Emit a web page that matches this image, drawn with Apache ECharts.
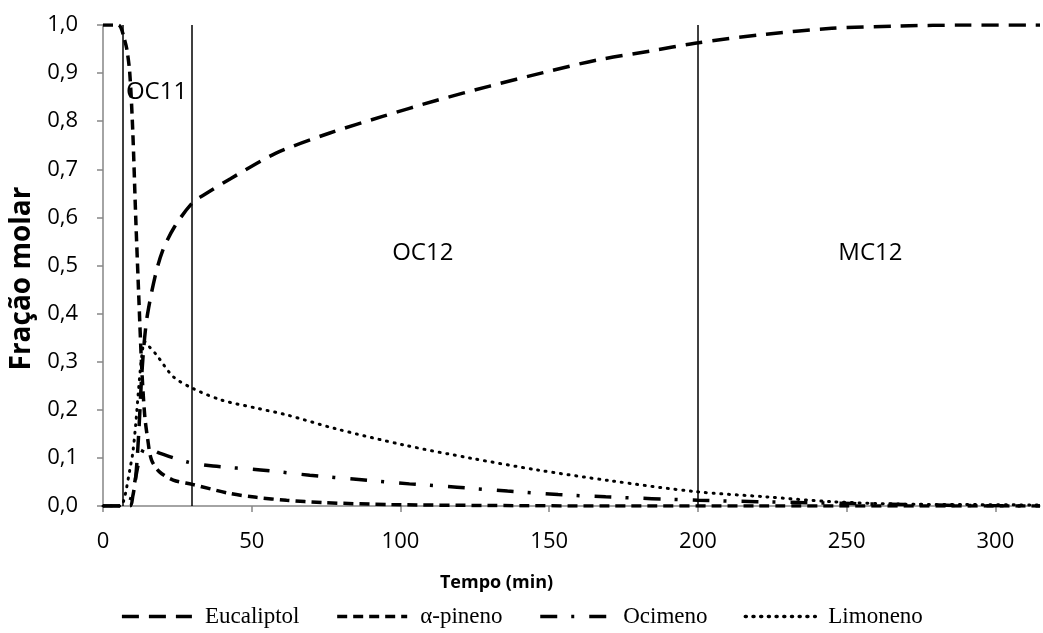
<!DOCTYPE html>
<html>
<head>
<meta charset="utf-8">
<script src="https://cdn.jsdelivr.net/npm/echarts@6/dist/echarts.min.js"></script>
<style>
  html, body { margin: 0; padding: 0; background: #fff; }
  #chart { width: 1043px; height: 633px; }
</style>
</head>
<body>
<div id="chart"></div>
<script>
// Fração molar x tempo — curvas
var tEuc = [0, 9, 10, 11, 12, 13, 14, 15, 17.5, 20, 24, 30, 34, 43, 58, 76, 94, 112, 130, 148, 166, 184, 199, 223, 245, 268, 290, 315];
var yEuc = [0, 0, 0.02, 0.06, 0.15, 0.27, 0.35, 0.40, 0.477, 0.53, 0.58, 0.63, 0.647, 0.681, 0.733, 0.775, 0.81, 0.843, 0.873, 0.901, 0.927, 0.946, 0.962, 0.981, 0.993, 0.998, 1.0, 1.0];

var tPin = [0, 5, 6, 7, 8, 9, 10, 11, 12, 13, 14, 15, 16.3, 19, 23.6, 30, 42.7, 51.6, 61.7, 74, 97, 130, 170, 220, 315];
var yPin = [1.0, 1.0, 0.995, 0.975, 0.95, 0.90, 0.78, 0.60, 0.44, 0.29, 0.19, 0.14, 0.096, 0.071, 0.054, 0.045, 0.026, 0.018, 0.012, 0.007, 0.003, 0.001, 0, 0, 0];

var tOci = [0, 8, 9, 10, 11, 12, 13, 14, 15, 19, 28, 37, 53, 69.5, 86, 103, 119, 136, 153, 169, 200, 220, 236, 252, 270, 290, 315];
var yOci = [0, 0, 0.01, 0.03, 0.06, 0.09, 0.11, 0.12, 0.12, 0.11, 0.092, 0.083, 0.075, 0.064, 0.055, 0.046, 0.039, 0.031, 0.024, 0.019, 0.012, 0.009, 0.007, 0.005, 0.003, 0.001, 0];

var tLim = [0, 6, 7, 8, 9, 10, 11, 12, 13, 14, 15, 18, 23.6, 30, 40, 52, 62, 78, 101, 124, 146, 170, 199, 223, 245, 268, 290, 315];
var yLim = [0, 0, 0.012, 0.04, 0.075, 0.11, 0.17, 0.245, 0.31, 0.342, 0.335, 0.314, 0.269, 0.245, 0.22, 0.203, 0.189, 0.161, 0.127, 0.099, 0.075, 0.053, 0.030, 0.019, 0.009, 0.004, 0.003, 0.002];

var seriesNames = ['Eucaliptol', 'α-pineno', 'Ocimeno', 'Limoneno'];

// limites das zonas e os rótulos
var zoneLines = [6.5, 30, 200];
var zoneLabels = ['OC11', 'OC12', 'MC12'];
var zoneLabelX = [7.7, 107.5, 258];
var zoneLabelY = [0.86, 0.525, 0.525];

function pairs(t, y) {
  return t.map(function(v, i) { return [v, y[i]]; });
}

var chart = echarts.init(document.getElementById('chart'));

var axisFont = { fontFamily: 'Open Sans', fontSize: 22, color: '#000' };

function curve(name, t, y, width, dash, cap) {
  return {
    name: name, type: 'line', data: pairs(t, y),
    symbol: 'none', smooth: 0.3,
    lineStyle: { color: '#000', width: width, type: dash, cap: cap || 'butt' },
    itemStyle: { color: '#000' },
    z: 3
  };
}

chart.setOption({
  animation: false,
  grid: { left: 103, right: 3, top: 25, bottom: 127 },
  legend: {
    data: seriesNames,
    bottom: 0,
    left: 'center',
    itemWidth: 70,
    itemHeight: 14,
    itemGap: 36,
    textStyle: { fontFamily: 'Liberation Serif', fontSize: 23, color: '#000', padding: [0, 0, 0, 8] },
    lineStyle: { width: 3.5 },
    itemStyle: { color: 'rgba(0,0,0,0)', borderColor: 'rgba(0,0,0,0)', borderWidth: 0 }
  },
  xAxis: {
    type: 'value', min: 0, max: 315, interval: 50,
    name: 'Tempo (min)', nameLocation: 'middle', nameGap: 68,
    nameTextStyle: { fontFamily: 'Open Sans', fontSize: 18, fontWeight: 'bold', color: '#000', padding: [0, 150, 0, 0] },
    axisLine: { lineStyle: { color: '#868686', width: 1.5 } },
    axisTick: { length: 6, lineStyle: { color: '#868686', width: 1.5 } },
    axisLabel: Object.assign({ margin: 25, showMaxLabel: false }, axisFont),
    splitLine: { show: false }
  },
  yAxis: {
    type: 'value', min: 0, max: 1, interval: 0.1,
    name: 'Fração molar', nameLocation: 'middle', nameGap: 66,
    nameTextStyle: { fontFamily: 'Open Sans', fontSize: 28, fontWeight: 'bold', color: '#000', padding: [0, 26, 0, 0] },
    axisLine: { show: true, lineStyle: { color: '#868686', width: 1.5 } },
    axisTick: { show: true, length: 6, lineStyle: { color: '#868686', width: 1.5 } },
    axisLabel: Object.assign({
      margin: 25,
      formatter: function(v) { return v.toFixed(1).replace('.', ','); }
    }, axisFont),
    splitLine: { show: false }
  },
  series: [
    curve('Eucaliptol', tEuc, yEuc, 3.5, [17, 10]),
    curve('α-pineno', tPin, yPin, 3.5, [10, 6]),
    curve('Ocimeno', tOci, yOci, 3.5, [17, 14, 3, 15]),
    curve('Limoneno', tLim, yLim, 3, [1, 6.7], 'round'),
    {
      name: 'zonas', type: 'line', data: [], symbol: 'none',
      markLine: {
        silent: true, symbol: ['none', 'none'],
        lineStyle: { color: '#000', width: 1.5, type: 'solid' },
        label: { show: false },
        data: zoneLines.map(function(x) { return { xAxis: x }; })
      },
      markPoint: {
        silent: true, symbol: 'circle', symbolSize: 0,
        label: { show: true, formatter: '{b}', fontFamily: 'Open Sans', fontSize: 24, color: '#000' },
        data: zoneLabels.map(function(s, i) {
          return {
            name: s, coord: [zoneLabelX[i], zoneLabelY[i]],
            label: { align: i === 0 ? 'left' : 'center', verticalAlign: 'middle', position: 'inside' }
          };
        })
      }
    }
  ]
});
</script>
</body>
</html>
